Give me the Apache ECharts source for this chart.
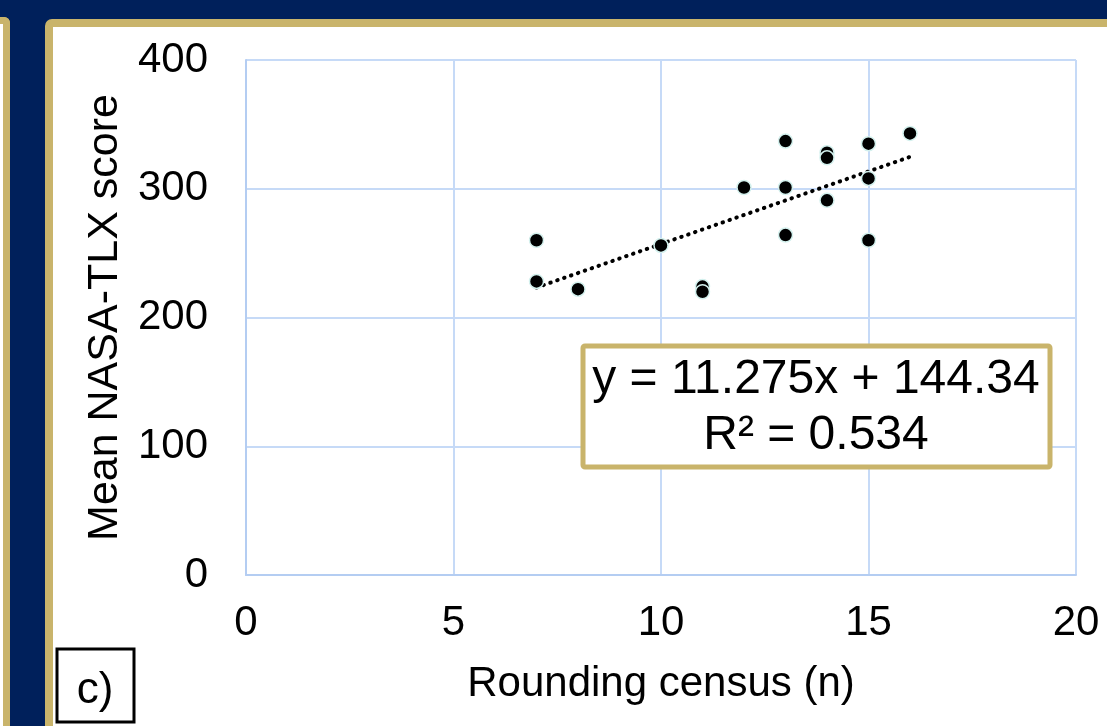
<!DOCTYPE html>
<html>
<head>
<meta charset="utf-8">
<script src="https://cdn.jsdelivr.net/npm/echarts@6/dist/echarts.min.js"></script>
<style>
html,body{margin:0;padding:0;}
body{width:1107px;height:726px;background:#00205b;position:relative;overflow:hidden;}
#leftPanel{position:absolute;left:-60px;top:17px;width:63px;height:800px;background:#fff;border:7px solid #c9b46b;border-left:none;border-radius:0 6px 0 0;}
#mainPanel{position:absolute;left:45px;top:19px;width:1200px;height:800px;background:#fff;border:8px solid #c9b46b;border-radius:7px;}
#chart{position:absolute;left:0;top:0;width:1107px;height:726px;}
</style>
</head>
<body>
<div id="leftPanel"></div>
<div id="mainPanel"></div>
<div id="chart"></div>
<script>
// 数据：查房人数 vs NASA-TLX 平均分
var censusX = [7, 7, 8, 10, 11, 11, 12, 13, 13, 13, 14, 14, 14, 15, 15, 15, 16];
var tlxY = [260, 228, 222, 256, 224, 220, 301, 337, 301, 264, 328, 324, 291, 335, 308, 260, 343];
var xTicks = [0, 5, 10, 15, 20];
var yTicks = [0, 100, 200, 300, 400];
// 趋势线 (图中公式)
var slope = 11.275;
var intercept = 144.34;
var rSquared = '0.534';

var gold = '#c9b46b';
var font = 'Liberation Sans, Arial, sans-serif';

var points = [];
for (var i = 0; i < censusX.length; i++) {
	points.push([censusX[i], tlxY[i]]);
}
var xMinData = Math.min.apply(null, censusX);
var xMaxData = Math.max.apply(null, censusX);
var trend = [[xMinData, slope * xMinData + intercept], [xMaxData, slope * xMaxData + intercept]];

var myChart = echarts.init(document.getElementById('chart'));
var option = {
	animation: false,
	grid: {
		left: 246,
		top: 60,
		right: 31,
		bottom: 151
	},
	xAxis: {
		type: 'value',
		min: xTicks[0],
		max: xTicks[xTicks.length - 1],
		interval: 5,
		name: 'Rounding census (n)',
		nameLocation: 'middle',
		nameGap: 88,
		nameTextStyle: {color: '#000', fontSize: 42, fontFamily: font},
		axisLine: {show: true, lineStyle: {color: '#b4cdf2', width: 2}},
		axisTick: {show: false},
		axisLabel: {color: '#000', fontSize: 42, fontFamily: font, margin: 27},
		splitLine: {show: true, lineStyle: {color: '#c6daf7', width: 2}}
	},
	yAxis: {
		type: 'value',
		min: yTicks[0],
		max: yTicks[yTicks.length - 1],
		interval: 100,
		name: 'Mean NASA-TLX score',
		nameLocation: 'middle',
		nameGap: 118,
		nameTextStyle: {color: '#000', fontSize: 43, fontFamily: font},
		axisLine: {show: true, lineStyle: {color: '#b4cdf2', width: 2}},
		axisTick: {show: false},
		axisLabel: {color: '#000', fontSize: 42, fontFamily: font, margin: 38},
		splitLine: {show: true, lineStyle: {color: '#c6daf7', width: 2}}
	},
	series: [
		{
			type: 'line',
			data: trend,
			symbol: 'none',
			lineStyle: {color: '#000', width: 4, type: [0.5, 6.8], cap: 'round'},
			z: 3
		},
		{
			type: 'scatter',
			data: points,
			symbol: 'circle',
			symbolSize: 14,
			itemStyle: {color: '#000', borderColor: '#d4f1ee', borderWidth: 1.5, opacity: 1},
			z: 4
		}
	],
	graphic: [
		// 公式框
		{
			type: 'rect',
			z: 100,
			shape: {x: 583, y: 346, width: 467, height: 121, r: 2},
			style: {fill: '#fff', stroke: gold, lineWidth: 5}
		},
		{
			type: 'text',
			z: 101,
			x: 816,
			y: 380,
			style: {text: 'y = ' + slope + 'x + ' + intercept, fill: '#000', font: '48px ' + font, align: 'center', verticalAlign: 'middle'}
		},
		{
			type: 'text',
			z: 101,
			x: 816,
			y: 436,
			style: {text: 'R² = ' + rSquared, fill: '#000', font: '48px ' + font, align: 'center', verticalAlign: 'middle'}
		},
		// c) 标签
		{
			type: 'rect',
			z: 100,
			shape: {x: 57, y: 649, width: 77, height: 73},
			style: {fill: '#fff', stroke: '#000', lineWidth: 3}
		},
		{
			type: 'text',
			z: 101,
			x: 95,
			y: 691,
			style: {text: 'c)', fill: '#000', font: '44px ' + font, align: 'center', verticalAlign: 'middle'}
		}
	]
};
myChart.setOption(option);
</script>
</body>
</html>
